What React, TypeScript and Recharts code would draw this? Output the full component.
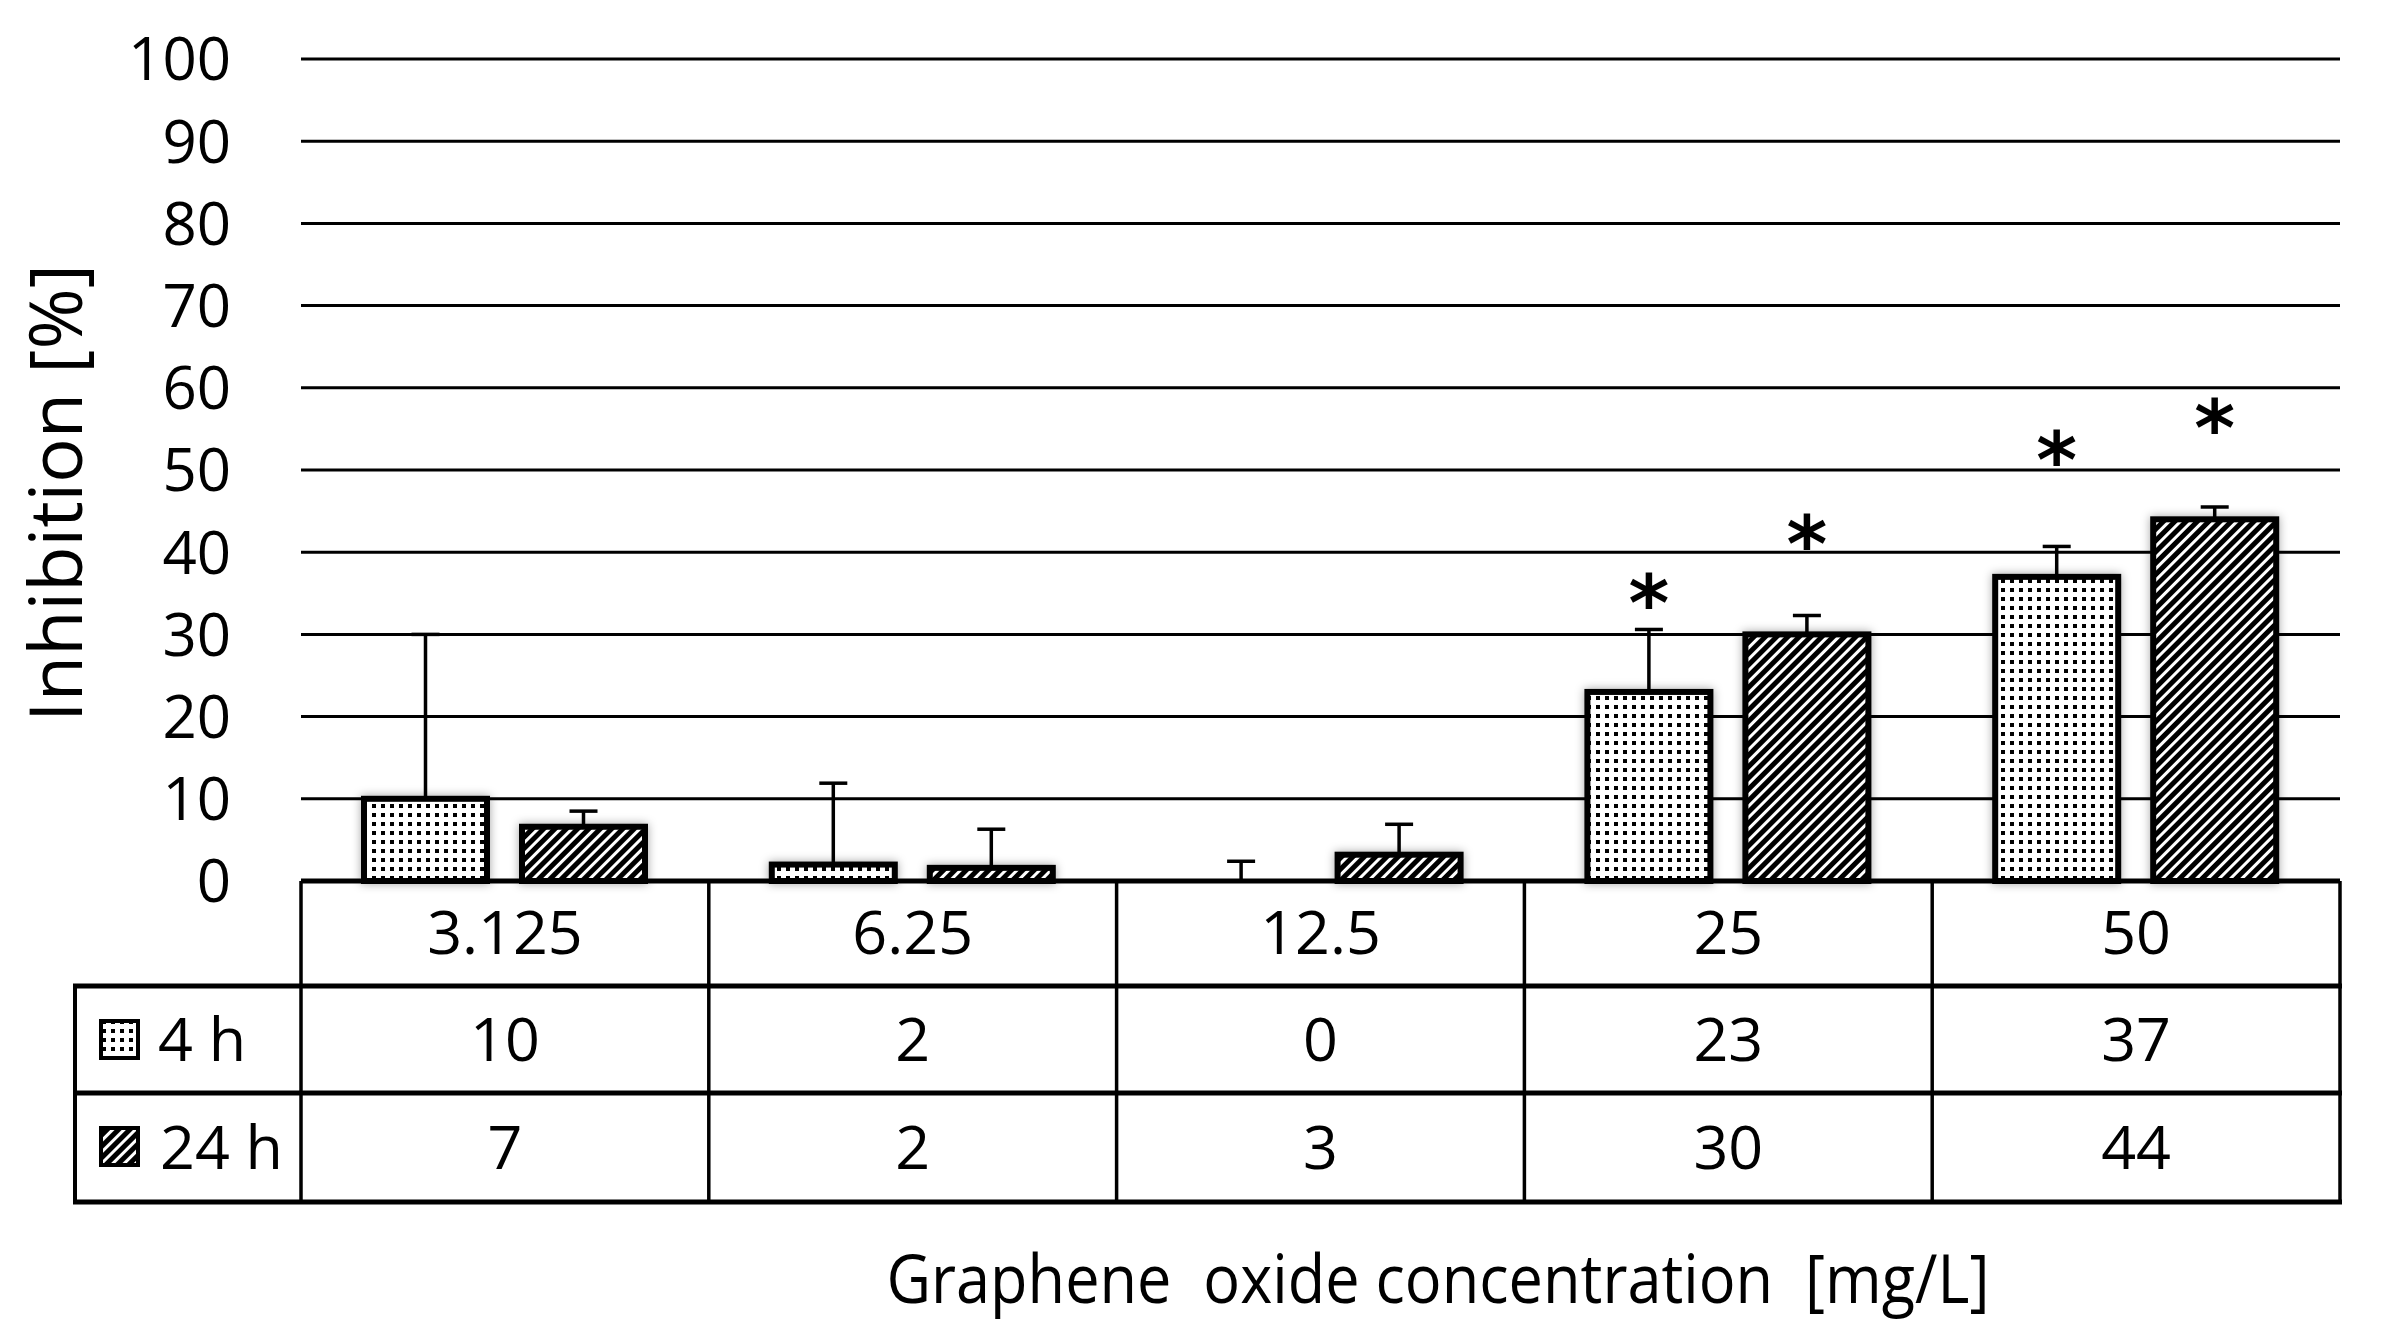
import React from 'react';
import { BarChart, Bar, XAxis, YAxis, CartesianGrid, ErrorBar, LabelList } from 'recharts';

// ---------- data ----------
const categories = ['3.125', '6.25', '12.5', '25', '50'];
const seriesNames = ['4 h', '24 h'];
const inhibition4h = [10, 2, 0, 23, 37];
const inhibition24h = [6.6, 1.6, 3.2, 30, 44];
const error4h = [20, 9.9, 2.4, 7.6, 3.7];
const error24h = [1.9, 4.7, 3.7, 2.3, 1.5];
const star4h = [null, null, null, 35.8, 53.2];
const star24h = [null, null, null, 42.9, 57.0];
const yTicks = [0, 10, 20, 30, 40, 50, 60, 70, 80, 90, 100];
const xTitle = 'Graphene  oxide concentration  [mg/L]';
const yTitle = 'Inhibition [%]';

const data = categories.map((c, i) => ({
  cat: c,
  h4: inhibition4h[i],
  h24: inhibition24h[i],
  e4: [0, error4h[i]],
  e24: [0, error24h[i]],
  s4: star4h[i],
  s24: star24h[i],
}));

// ---------- layout ----------
const W = 2386;
const H = 1339;
const PLOT_L = 301;
const PLOT_R = 2340;
const PLOT_T = 59;
const PLOT_B = 881;
const BAND = (PLOT_R - PLOT_L) / categories.length;
const TABLE_L = 75;
const ROW_LINES = [986, 1093, 1202];
const ROW_CENTERS = [933, 1040, 1148];
const FS = 61;
const BASE_DY = 21;

const TableTick = (props: any) => {
  const { x, payload } = props;
  const i = props.index ?? payload.index;
  const right = x + BAND / 2;
  const left = x - BAND / 2;
  return (
    <g>
      {i === 0 && (
        <g>
          {ROW_LINES.map((ly) => (
            <line key={ly} x1={TABLE_L - 2} x2={PLOT_R + 2} y1={ly} y2={ly} stroke="#000" strokeWidth={5} />
          ))}
          <line x1={TABLE_L} x2={TABLE_L} y1={ROW_LINES[0]} y2={ROW_LINES[2]} stroke="#000" strokeWidth={4} />
          <line x1={left} x2={left} y1={PLOT_B} y2={ROW_LINES[2]} stroke="#000" strokeWidth={3.5} />
          <rect x={101} y={1021} width={37} height={37} fill="url(#dots)" stroke="#000" strokeWidth={4} />
          <text x={158} y={ROW_CENTERS[1] + BASE_DY} fontSize={FS} fill="#000">{seriesNames[0]}</text>
          <rect x={101} y={1128} width={37} height={37} fill="url(#stripes)" stroke="#000" strokeWidth={4} />
          <text x={160} y={ROW_CENTERS[2] + BASE_DY} fontSize={FS} fill="#000">{seriesNames[1]}</text>
        </g>
      )}
      <line x1={right} x2={right} y1={PLOT_B} y2={ROW_LINES[2]} stroke="#000" strokeWidth={3.5} />
      <text x={x} y={ROW_CENTERS[0] + BASE_DY} textAnchor="middle" fontSize={FS} fill="#000">{payload.value}</text>
      <text x={x} y={ROW_CENTERS[1] + BASE_DY} textAnchor="middle" fontSize={FS} fill="#000">{Math.round(inhibition4h[i])}</text>
      <text x={x} y={ROW_CENTERS[2] + BASE_DY} textAnchor="middle" fontSize={FS} fill="#000">{Math.round(inhibition24h[i])}</text>
    </g>
  );
};

const XTitle = () => (
  <text x={1438} y={1303} textAnchor="middle" fontSize={68} fill="#000" textLength={1103} lengthAdjust="spacingAndGlyphs" style={{ whiteSpace: 'pre' }}>
    {xTitle}
  </text>
);

const YTitle = () => (
  <text x={82} y={493} transform="rotate(-90 82 493)" textAnchor="middle" fontSize={74} fill="#000">
    {yTitle}
  </text>
);

const makeStar = (vals: number[]) => (props: any) => {
  const vb = props.viewBox || props;
  const { index, value } = props;
  if (value == null) return null;
  const x = vb.x ?? props.x;
  const y = vb.y ?? props.y;
  const width = vb.width ?? props.width;
  const height = vb.height ?? props.height;
  const v = vals[index];
  if (!v) return null;
  const base = y + height;
  const cy = base - (value * height) / v;
  return (
    <text x={x + width / 2} y={cy + 44} textAnchor="middle" fontSize={78} fontWeight="bold" fontFamily="DejaVu Sans" fill="#000">
      *
    </text>
  );
};

const BarShape = (p: any) => (
  <rect x={p.x} y={p.y} width={p.width} height={Math.max(p.height, 0)} fill={p.fill} stroke="#000" strokeWidth={6} filter="url(#barShadow)" />
);

export default function App() {
  return (
    <div style={{ position: 'absolute', left: 0, top: 0, width: W, height: H, background: '#fff', fontFamily: "'Open Sans', sans-serif" }}>
      <svg width={0} height={0} style={{ position: 'absolute' }}>
        <defs>
          <pattern id="dots" patternUnits="userSpaceOnUse" width={9} height={9}>
            <rect width={9} height={9} fill="#fff" />
            <rect x={3} y={3} width={4} height={4} fill="#000" />
          </pattern>
          <pattern id="stripes" patternUnits="userSpaceOnUse" width={8} height={8} patternTransform="rotate(45)">
            <rect width={8} height={8} fill="#fff" />
            <rect width={5} height={8} fill="#000" />
          </pattern>
          <filter id="barShadow" filterUnits="userSpaceOnUse" x={0} y={0} width={W} height={H}>
            <feDropShadow dx={0} dy={0} stdDeviation={5} floodColor="#000" floodOpacity={0.35} />
          </filter>
        </defs>
      </svg>
      <BarChart
        width={W}
        height={H}
        data={data}
        margin={{ top: PLOT_T, right: W - PLOT_R, bottom: 0, left: 0 }}
        barSize={123}
        barGap={35}
      >
        <CartesianGrid vertical={false} stroke="#000" strokeWidth={3} />
        <YAxis
          domain={[0, 100]}
          ticks={yTicks}
          width={PLOT_L}
          axisLine={false}
          tickLine={false}
          tickSize={0}
          tickMargin={70}
          tick={{ fill: '#000', fontSize: 60 }}
          label={<YTitle />}
          interval={0}
        />
        <XAxis
          dataKey="cat"
          height={H - PLOT_B}
          axisLine={{ stroke: '#000', strokeWidth: 5 }}
          tickLine={false}
          tick={<TableTick />}
          interval={0}
          label={<XTitle />}
        />
        <Bar dataKey="h4" fill="url(#dots)" shape={<BarShape />} isAnimationActive={false}>
          <ErrorBar dataKey="e4" direction="y" stroke="#000" strokeWidth={3.5} width={14} />
          <LabelList dataKey="s4" content={makeStar(inhibition4h)} />
        </Bar>
        <Bar dataKey="h24" fill="url(#stripes)" shape={<BarShape />} isAnimationActive={false}>
          <ErrorBar dataKey="e24" direction="y" stroke="#000" strokeWidth={3.5} width={14} />
          <LabelList dataKey="s24" content={makeStar(inhibition24h)} />
        </Bar>
      </BarChart>
    </div>
  );
}
